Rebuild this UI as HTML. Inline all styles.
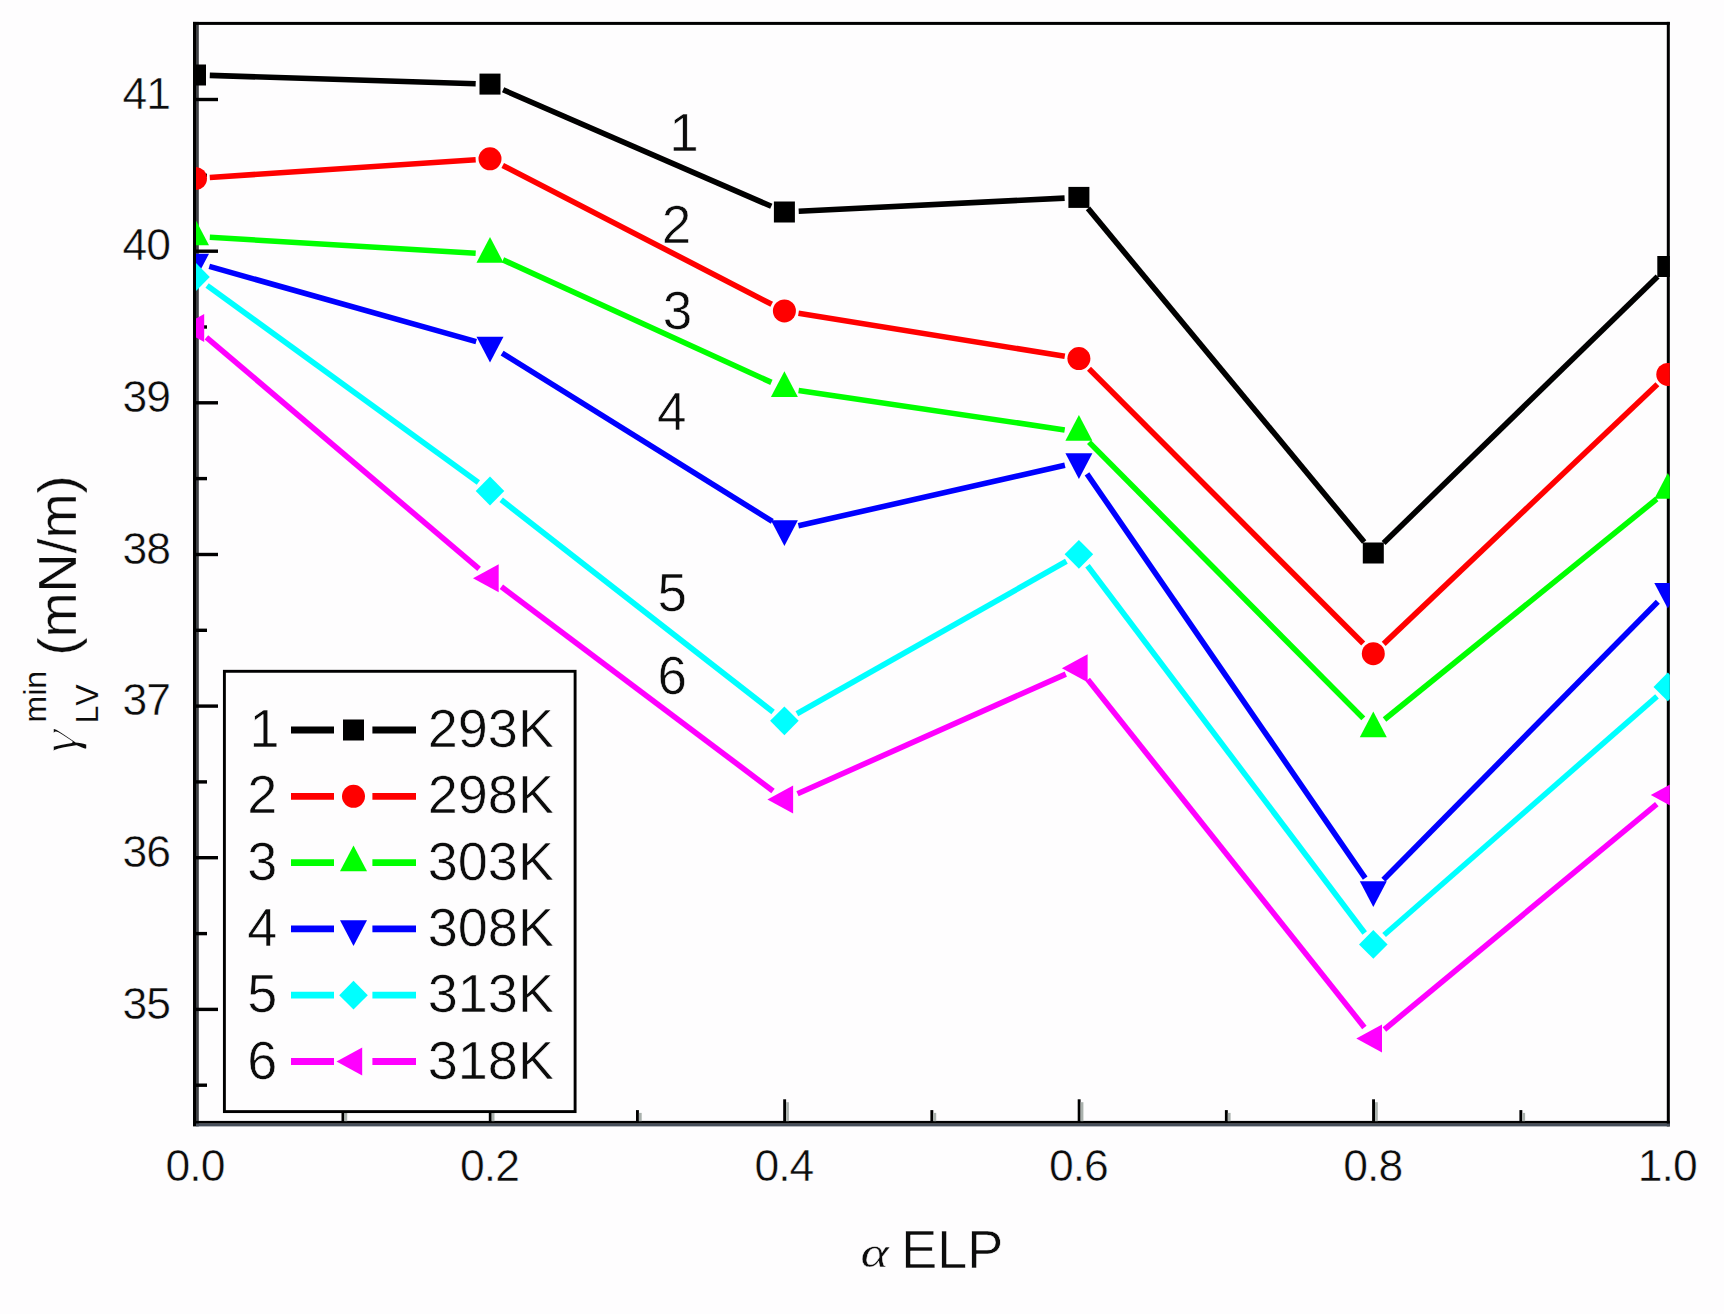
<!DOCTYPE html>
<html><head><meta charset="utf-8"><title>chart</title>
<style>
html,body{margin:0;padding:0;background:#fefdfe;}
svg{display:block}
text{font-family:"Liberation Sans",sans-serif;fill:#0c0c0c;font-kerning:none;stroke:#fefdfe;stroke-width:0.6px;stroke-linejoin:round}
text.sm{stroke-width:0.1px}
text.yt{stroke-width:0.3px}
text.tk{stroke-width:0.5px}
text.tk{letter-spacing:-1px}
text.gr{font-family:"Liberation Serif","DejaVu Serif",serif;font-style:italic;stroke-width:1.5px}
text.al{stroke-width:0.4px}
</style></head><body>
<svg width="1724" height="1314" viewBox="0 0 1724 1314">
<rect width="1724" height="1314" fill="#fefdfe"/>
<defs><clipPath id="pa"><rect x="196" y="23.5" width="1473.8" height="1103.4"/></clipPath></defs>

<g stroke="none">
<rect x="193" y="21.9" width="3" height="1104.5" fill="#000"/>
<rect x="196" y="21.9" width="2.8" height="1104.5" fill="#3e4044"/>
<rect x="193" y="21.9" width="1476.8" height="3" fill="#000"/>
<rect x="1666.8" y="21.9" width="3" height="1104.5" fill="#000"/>
<rect x="193" y="1120.9" width="1476.8" height="2.8" fill="#000"/>
<rect x="196" y="1123.6" width="1473.8" height="2.8" fill="#474f5b"/>
<rect x="196" y="1007.7" width="22" height="3.4" fill="#000"/>
<rect x="196" y="856.0" width="22" height="3.4" fill="#000"/>
<rect x="196" y="704.4" width="22" height="3.4" fill="#000"/>
<rect x="196" y="552.8" width="22" height="3.4" fill="#000"/>
<rect x="196" y="401.1" width="22" height="3.4" fill="#000"/>
<rect x="196" y="249.5" width="22" height="3.4" fill="#000"/>
<rect x="196" y="97.8" width="22" height="3.4" fill="#000"/>
<rect x="196" y="1083.5" width="11" height="3.4" fill="#000"/>
<rect x="196" y="931.9" width="11" height="3.4" fill="#000"/>
<rect x="196" y="780.2" width="11" height="3.4" fill="#000"/>
<rect x="196" y="628.6" width="11" height="3.4" fill="#000"/>
<rect x="196" y="476.9" width="11" height="3.4" fill="#000"/>
<rect x="196" y="325.3" width="11" height="3.4" fill="#000"/>
<rect x="196" y="173.6" width="11" height="3.4" fill="#000"/>
<rect x="488.8" y="1099.3" width="2.9" height="22" fill="#000"/>
<rect x="491.7" y="1102.2" width="2.8" height="19" fill="#aab1ad"/>
<rect x="783.2" y="1099.3" width="2.9" height="22" fill="#000"/>
<rect x="786.1" y="1102.2" width="2.8" height="19" fill="#aab1ad"/>
<rect x="1077.7" y="1099.3" width="2.9" height="22" fill="#000"/>
<rect x="1080.6" y="1102.2" width="2.8" height="19" fill="#aab1ad"/>
<rect x="1372.1" y="1099.3" width="2.9" height="22" fill="#000"/>
<rect x="1375.0" y="1102.2" width="2.8" height="19" fill="#aab1ad"/>
<rect x="341.5" y="1110.1" width="2.9" height="11.2" fill="#000"/>
<rect x="344.4" y="1112.9" width="2.8" height="8.3" fill="#aab1ad"/>
<rect x="636.0" y="1110.1" width="2.9" height="11.2" fill="#000"/>
<rect x="638.9" y="1112.9" width="2.8" height="8.3" fill="#aab1ad"/>
<rect x="930.4" y="1110.1" width="2.9" height="11.2" fill="#000"/>
<rect x="933.4" y="1112.9" width="2.8" height="8.3" fill="#aab1ad"/>
<rect x="1224.9" y="1110.1" width="2.9" height="11.2" fill="#000"/>
<rect x="1227.8" y="1112.9" width="2.8" height="8.3" fill="#aab1ad"/>
<rect x="1519.4" y="1110.1" width="2.9" height="11.2" fill="#000"/>
<rect x="1522.3" y="1112.9" width="2.8" height="8.3" fill="#aab1ad"/>
</g>
<g clip-path="url(#pa)">
<line x1="209.8" y1="75.4" x2="475.7" y2="83.7" stroke="#000000" stroke-width="5.6"/>
<line x1="503.1" y1="89.8" x2="771.3" y2="206.3" stroke="#000000" stroke-width="5.6"/>
<line x1="798.7" y1="211.3" x2="1064.6" y2="198.1" stroke="#000000" stroke-width="5.6"/>
<line x1="1088.0" y1="208.4" x2="1364.2" y2="542.0" stroke="#000000" stroke-width="5.6"/>
<line x1="1383.6" y1="543.0" x2="1657.6" y2="276.5" stroke="#000000" stroke-width="5.6"/>
<rect x="185.0" y="64.5" width="21.0" height="21.0" fill="#000000"/>
<rect x="479.5" y="73.6" width="21.0" height="21.0" fill="#000000"/>
<rect x="773.9" y="201.5" width="21.0" height="21.0" fill="#000000"/>
<rect x="1068.4" y="186.9" width="21.0" height="21.0" fill="#000000"/>
<rect x="1362.8" y="542.5" width="21.0" height="21.0" fill="#000000"/>
<rect x="1657.3" y="256.0" width="21.0" height="21.0" fill="#000000"/>
<line x1="209.8" y1="177.5" x2="475.7" y2="159.8" stroke="#ff0000" stroke-width="5.6"/>
<line x1="502.7" y1="165.4" x2="771.7" y2="304.3" stroke="#ff0000" stroke-width="5.6"/>
<line x1="798.5" y1="313.2" x2="1064.8" y2="356.3" stroke="#ff0000" stroke-width="5.6"/>
<line x1="1089.0" y1="368.7" x2="1363.2" y2="643.6" stroke="#ff0000" stroke-width="5.6"/>
<line x1="1383.7" y1="643.9" x2="1657.4" y2="384.2" stroke="#ff0000" stroke-width="5.6"/>
<circle cx="195.5" cy="178.5" r="11.5" fill="#ff0000"/>
<circle cx="490.0" cy="158.8" r="11.5" fill="#ff0000"/>
<circle cx="784.4" cy="310.9" r="11.5" fill="#ff0000"/>
<circle cx="1078.9" cy="358.6" r="11.5" fill="#ff0000"/>
<circle cx="1373.3" cy="653.7" r="11.5" fill="#ff0000"/>
<circle cx="1667.8" cy="374.4" r="11.5" fill="#ff0000"/>
<line x1="209.8" y1="237.3" x2="475.7" y2="253.2" stroke="#00ff00" stroke-width="5.6"/>
<line x1="503.0" y1="259.9" x2="771.4" y2="382.4" stroke="#00ff00" stroke-width="5.6"/>
<line x1="798.6" y1="390.4" x2="1064.7" y2="429.9" stroke="#00ff00" stroke-width="5.6"/>
<line x1="1089.0" y1="442.1" x2="1363.3" y2="718.4" stroke="#00ff00" stroke-width="5.6"/>
<line x1="1384.5" y1="719.5" x2="1656.7" y2="499.0" stroke="#00ff00" stroke-width="5.6"/>
<polygon points="195.5,219.5 209.0,245.2 182.0,245.2" fill="#00ff00"/>
<polygon points="490.0,237.0 503.5,262.7 476.5,262.7" fill="#00ff00"/>
<polygon points="784.4,371.3 797.9,397.0 770.9,397.0" fill="#00ff00"/>
<polygon points="1078.9,415.0 1092.4,440.7 1065.4,440.7" fill="#00ff00"/>
<polygon points="1373.3,711.5 1386.8,737.2 1359.8,737.2" fill="#00ff00"/>
<polygon points="1667.8,473.0 1681.3,498.7 1654.3,498.7" fill="#00ff00"/>
<line x1="209.3" y1="266.4" x2="476.2" y2="341.6" stroke="#0000ff" stroke-width="5.6"/>
<line x1="502.1" y1="353.1" x2="772.3" y2="521.4" stroke="#0000ff" stroke-width="5.6"/>
<line x1="798.4" y1="525.8" x2="1064.9" y2="465.2" stroke="#0000ff" stroke-width="5.6"/>
<line x1="1087.0" y1="473.8" x2="1365.2" y2="878.2" stroke="#0000ff" stroke-width="5.6"/>
<line x1="1383.4" y1="879.8" x2="1657.8" y2="601.8" stroke="#0000ff" stroke-width="5.6"/>
<polygon points="195.5,279.5 209.0,253.8 182.0,253.8" fill="#0000ff"/>
<polygon points="490.0,362.5 503.5,336.8 476.5,336.8" fill="#0000ff"/>
<polygon points="784.4,546.0 797.9,520.3 770.9,520.3" fill="#0000ff"/>
<polygon points="1078.9,479.0 1092.4,453.3 1065.4,453.3" fill="#0000ff"/>
<polygon points="1373.3,907.0 1386.8,881.3 1359.8,881.3" fill="#0000ff"/>
<polygon points="1667.8,608.6 1681.3,582.9 1654.3,582.9" fill="#0000ff"/>
<line x1="207.1" y1="285.4" x2="478.4" y2="482.6" stroke="#00ffff" stroke-width="5.6"/>
<line x1="501.2" y1="499.8" x2="773.1" y2="712.0" stroke="#00ffff" stroke-width="5.6"/>
<line x1="796.9" y1="713.8" x2="1066.4" y2="561.3" stroke="#00ffff" stroke-width="5.6"/>
<line x1="1087.5" y1="565.7" x2="1364.7" y2="933.0" stroke="#00ffff" stroke-width="5.6"/>
<line x1="1384.1" y1="935.0" x2="1657.0" y2="696.3" stroke="#00ffff" stroke-width="5.6"/>
<polygon points="195.5,262.6 209.8,277.0 195.5,291.4 181.2,277.0" fill="#00ffff"/>
<polygon points="490.0,476.6 504.3,491.0 490.0,505.4 475.7,491.0" fill="#00ffff"/>
<polygon points="784.4,706.4 798.7,720.8 784.4,735.2 770.1,720.8" fill="#00ffff"/>
<polygon points="1078.9,539.9 1093.2,554.3 1078.9,568.7 1064.6,554.3" fill="#00ffff"/>
<polygon points="1373.3,930.0 1387.6,944.4 1373.3,958.8 1359.0,944.4" fill="#00ffff"/>
<polygon points="1667.8,672.5 1682.1,686.9 1667.8,701.3 1653.5,686.9" fill="#00ffff"/>
<line x1="206.4" y1="337.3" x2="479.1" y2="568.9" stroke="#ff00ff" stroke-width="5.6"/>
<line x1="501.4" y1="586.8" x2="773.0" y2="790.9" stroke="#ff00ff" stroke-width="5.6"/>
<line x1="797.5" y1="793.7" x2="1065.8" y2="674.1" stroke="#ff00ff" stroke-width="5.6"/>
<line x1="1087.8" y1="679.5" x2="1364.4" y2="1027.4" stroke="#ff00ff" stroke-width="5.6"/>
<line x1="1384.4" y1="1029.5" x2="1656.8" y2="804.1" stroke="#ff00ff" stroke-width="5.6"/>
<polygon points="178.5,328.0 204.2,314.0 204.2,342.0" fill="#ff00ff"/>
<polygon points="473.0,578.2 498.7,564.2 498.7,592.2" fill="#ff00ff"/>
<polygon points="767.4,799.5 793.1,785.5 793.1,813.5" fill="#ff00ff"/>
<polygon points="1061.9,668.3 1087.6,654.3 1087.6,682.3" fill="#ff00ff"/>
<polygon points="1356.3,1038.6 1382.0,1024.6 1382.0,1052.6" fill="#ff00ff"/>
<polygon points="1650.8,795.0 1676.5,781.0 1676.5,809.0" fill="#ff00ff"/>
</g>
<text class="tk" x="170" y="1018.7" font-size="44.5" text-anchor="end">35</text>
<text class="tk" x="170" y="867.0" font-size="44.5" text-anchor="end">36</text>
<text class="tk" x="170" y="715.4" font-size="44.5" text-anchor="end">37</text>
<text class="tk" x="170" y="563.8" font-size="44.5" text-anchor="end">38</text>
<text class="tk" x="170" y="412.1" font-size="44.5" text-anchor="end">39</text>
<text class="tk" x="170" y="260.4" font-size="44.5" text-anchor="end">40</text>
<text class="tk" x="170" y="108.8" font-size="44.5" text-anchor="end">41</text>
<text class="tk" x="195.0" y="1180.7" font-size="44.5" text-anchor="middle">0.0</text>
<text class="tk" x="489.5" y="1180.7" font-size="44.5" text-anchor="middle">0.2</text>
<text class="tk" x="783.9" y="1180.7" font-size="44.5" text-anchor="middle">0.4</text>
<text class="tk" x="1078.4" y="1180.7" font-size="44.5" text-anchor="middle">0.6</text>
<text class="tk" x="1372.8" y="1180.7" font-size="44.5" text-anchor="middle">0.8</text>
<text class="tk" x="1667.3" y="1180.7" font-size="44.5" text-anchor="middle">1.0</text>
<text x="669.2" y="151" font-size="53">1</text>
<text x="661.7" y="242.5" font-size="53">2</text>
<text x="662.8" y="328.5" font-size="53">3</text>
<text x="657" y="430" font-size="53">4</text>
<text x="657.6" y="610.5" font-size="53">5</text>
<text x="657.6" y="694" font-size="53">6</text>
<text class="gr al" transform="translate(860.5,1267.3) scale(1.23,1)" font-size="44">α</text>
<text x="901.2" y="1267.5" font-size="54">ELP</text>
<g transform="translate(76.3,754) rotate(-90)"><text class="gr" transform="translate(0.5,0) scale(1.2,1)" font-size="51">γ</text><text class="sm" x="31.5" y="-30.1" font-size="32">min</text><text class="sm" x="30.5" y="21.3" font-size="32">LV</text><text class="yt" x="98.5" y="0" font-size="54">(mN/m)</text></g>
<rect x="224.4" y="671.3" width="350.7" height="440.3" fill="#fefdfe" stroke="#000" stroke-width="2.9"/>
<text x="249.6" y="747.0" font-size="54">1</text>
<line x1="291" y1="730.0" x2="334" y2="730.0" stroke="#000000" stroke-width="6.8"/>
<line x1="372.4" y1="730.0" x2="416" y2="730.0" stroke="#000000" stroke-width="6.8"/>
<rect x="343.0" y="719.5" width="21.0" height="21.0" fill="#000000"/>
<text x="427.8" y="747.0" font-size="54">293K</text>
<text x="247.3" y="813.3" font-size="54">2</text>
<line x1="291" y1="796.3" x2="334" y2="796.3" stroke="#ff0000" stroke-width="6.8"/>
<line x1="372.4" y1="796.3" x2="416" y2="796.3" stroke="#ff0000" stroke-width="6.8"/>
<circle cx="353.5" cy="796.3" r="11.5" fill="#ff0000"/>
<text x="427.8" y="813.3" font-size="54">298K</text>
<text x="247.3" y="879.6" font-size="54">3</text>
<line x1="291" y1="862.6" x2="334" y2="862.6" stroke="#00ff00" stroke-width="6.8"/>
<line x1="372.4" y1="862.6" x2="416" y2="862.6" stroke="#00ff00" stroke-width="6.8"/>
<polygon points="353.5,845.6 367.0,871.3 340.0,871.3" fill="#00ff00"/>
<text x="427.8" y="879.6" font-size="54">303K</text>
<text x="247.3" y="945.9" font-size="54">4</text>
<line x1="291" y1="928.9" x2="334" y2="928.9" stroke="#0000ff" stroke-width="6.8"/>
<line x1="372.4" y1="928.9" x2="416" y2="928.9" stroke="#0000ff" stroke-width="6.8"/>
<polygon points="353.5,945.9 367.0,920.2 340.0,920.2" fill="#0000ff"/>
<text x="427.8" y="945.9" font-size="54">308K</text>
<text x="247.3" y="1012.2" font-size="54">5</text>
<line x1="291" y1="995.2" x2="334" y2="995.2" stroke="#00ffff" stroke-width="6.8"/>
<line x1="372.4" y1="995.2" x2="416" y2="995.2" stroke="#00ffff" stroke-width="6.8"/>
<polygon points="353.5,980.8 367.8,995.2 353.5,1009.6 339.2,995.2" fill="#00ffff"/>
<text x="427.8" y="1012.2" font-size="54">313K</text>
<text x="247.3" y="1078.5" font-size="54">6</text>
<line x1="291" y1="1061.5" x2="334" y2="1061.5" stroke="#ff00ff" stroke-width="6.8"/>
<line x1="372.4" y1="1061.5" x2="416" y2="1061.5" stroke="#ff00ff" stroke-width="6.8"/>
<polygon points="336.5,1061.5 362.2,1047.5 362.2,1075.5" fill="#ff00ff"/>
<text x="427.8" y="1078.5" font-size="54">318K</text>
</svg></body></html>
